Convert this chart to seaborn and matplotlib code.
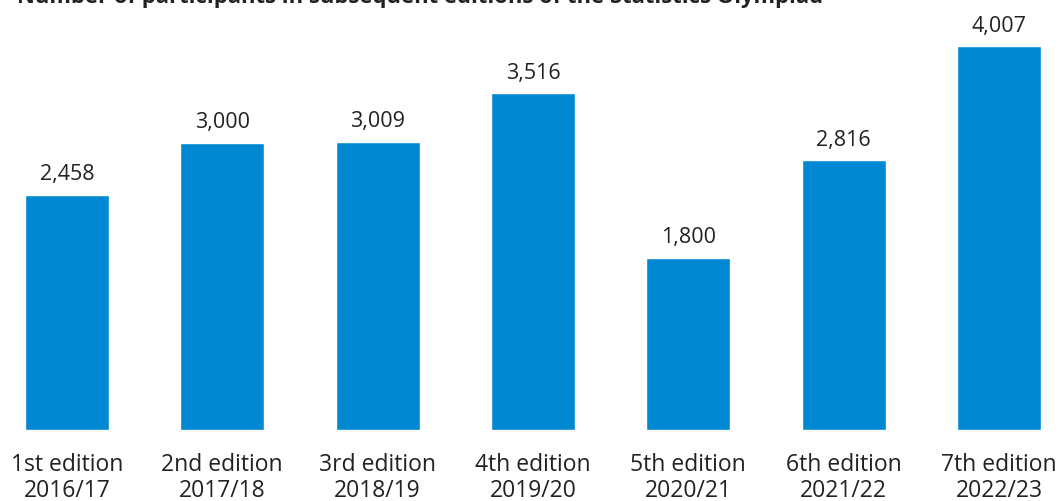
"""Number of participants in subsequent editions of the Statistics Olympiad"""
import matplotlib
matplotlib.use('Agg')
import matplotlib.pyplot as plt
import seaborn as sns
import pandas as pd

editions = ['1st edition', '2nd edition', '3rd edition', '4th edition',
            '5th edition', '6th edition', '7th edition']
years = ['2016/17', '2017/18', '2018/19', '2019/20', '2020/21', '2021/22', '2022/23']
participants = [2458, 3000, 3009, 3516, 1800, 2816, 4007]

_BAR_COLOR = '#0088d2'
_TEXT_COLOR = '#222222'

sns.set_style('white')
plt.rcParams['font.family'] = ['Open Sans', 'DejaVu Sans']

df = pd.DataFrame({
    'label': [f'{e}\n{y}' for e, y in zip(editions, years)],
    'participants': participants,
})

fig = plt.figure(figsize=(10.59, 5.02), dpi=100)
ax = fig.add_axes([0, 0.1414, 1, 0.8586])
sns.barplot(data=df, x='label', y='participants', color=_BAR_COLOR,
            saturation=1, width=0.54, ax=ax)

ax.set_xlim(-0.431, 6.386)
ax.set_ylim(0, 4500)
for i, v in enumerate(participants):
    ax.text(i, v + 110, f'{v:,}', ha='center', va='bottom',
            fontsize=15.5, color=_TEXT_COLOR)

ax.set_xlabel('')
ax.set_ylabel('')
ax.set_yticks([])
ax.tick_params(axis='x', length=0, pad=16, labelsize=16.5, labelcolor=_TEXT_COLOR)
for lbl in ax.get_xticklabels():
    lbl.set_linespacing(1.1)
sns.despine(ax=ax, left=True, bottom=True)

fig.text(0.016, 1.004, 'Number of participants in subsequent editions of the Statistics Olympiad',
         ha='left', va='center', fontsize=15.8, fontweight='bold', color=_TEXT_COLOR)

plt.savefig('out.png', dpi=100)
plt.close(fig)
